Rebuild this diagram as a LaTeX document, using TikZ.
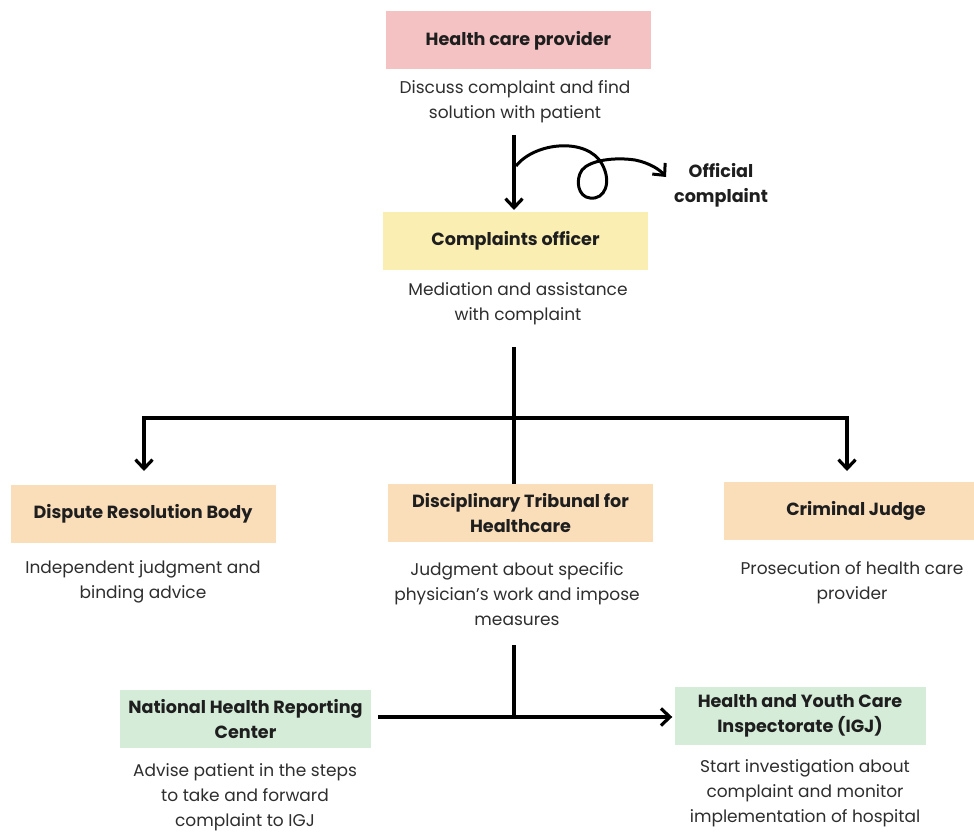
\documentclass[tikz,border=0pt]{standalone}
\usepackage{fontspec}
\setmainfont{Poppins}
\usetikzlibrary{arrows.meta}
\definecolor{pinkbox}{HTML}{F4C2C2}
\definecolor{yellowbox}{HTML}{FAEEB2}
\definecolor{peachbox}{HTML}{FADEBA}
\definecolor{greenbox}{HTML}{D4ECD8}
\definecolor{titletext}{HTML}{1E1E1E}
\definecolor{desctext}{HTML}{2E2E2E}
\tikzset{
  titlefont/.style={font=\fontsize{17.6}{25}\selectfont\bfseries, text=titletext},
  box/.style={rectangle, inner sep=0pt, minimum width=265pt, minimum height=58pt, align=center, titlefont},
  desc/.style={inner sep=0pt, align=center, font=\fontsize{17}{24.8}\selectfont, text=desctext},
  conn/.style={line width=3.6pt, black},
  arr/.style={conn, -{Straight Barb[length=9pt,width=17pt,line width=3.2pt]}},
}
\begin{document}
\begin{tikzpicture}[x=1pt,y=-1pt]
\useasboundingbox (0,0) rectangle (974,832);
\fill[white] (0,0) rectangle (974,832);

% top
\node[box, fill=pinkbox] (hcp) at (518.5,40.5) {Health care provider};
\node[desc] (hcpd) at (515,102) {Discuss complaint and find\\solution with patient};
\node[box, fill=yellowbox] (co) at (515.5,241) {Complaints officer};
\node[desc] (cod) at (518,304) {Mediation and assistance\\with complaint};
\node[titlefont, align=center, inner sep=0pt] (off) at (721,185) {Official\\complaint};

\coordinate (a1) at (514,135);
\coordinate (a2) at (514,210);
\draw[arr] (a1) -- (a2);
\coordinate (c0) at (516,166);
\coordinate (c1) at (666,177);
\draw[line width=3pt, -{Straight Barb[length=9pt,width=17pt,line width=3pt]}] (c0)
  .. controls (535,142) and (587,137) .. (602,164)
  .. controls (612,182) and (605,200) .. (590,198)
  .. controls (578,197) and (575,180) .. (582,170)
  .. controls (590,160) and (615,157) .. (635,160)
  .. controls (650,163) and (660,170) .. (c1);

% middle branch
\node[box, fill=peachbox] (drb) at (143,514) {Dispute Resolution Body};
\node[desc] (drbd) at (143,582) {Independent judgment and\\binding advice};
\node[box, fill=peachbox] (dt) at (520.5,513) {Disciplinary Tribunal for\\Healthcare};
\node[desc] (dtd) at (517,594) {Judgment about specific\\physician's work and impose\\measures};
\node[box, fill=peachbox] (cj) at (856,511) {Criminal Judge};
\node[desc] (cjd) at (852,583) {Prosecution of health care\\provider};

\coordinate (m0) at (514,347);
\coordinate (mj) at (514,418);
\coordinate (ml) at (144,418);
\coordinate (mr) at (847,418);
\draw[conn] (m0) -- (dt.north -| m0);
\draw[conn, line cap=rect] (ml) -- (mr);
\draw[arr] (ml) -- (ml |- 0,471);
\draw[arr] (mr) -- (mr |- 0,471);

% bottom
\node[box, fill=greenbox, minimum width=251pt] (nhrc) at (245.5,719) {National Health Reporting\\Center};
\node[desc] (nhrcd) at (245,797) {Advise patient in the steps\\to take and forward\\complaint to IGJ};
\node[box, fill=greenbox, minimum width=251pt] (igj) at (800,715.5) {Health and Youth Care\\Inspectorate (IGJ)};
\node[desc] (igjd) at (805,793) {Start investigation about\\complaint and monitor\\implementation of hospital};

\coordinate (b0) at (514,645);
\coordinate (bj) at (514,717);
\draw[conn] (b0) -- (bj);
\draw[arr] (nhrc.east |- bj) ++(7,0) -- ([xshift=-2pt]igj.west |- bj);
\end{tikzpicture}
\end{document}
